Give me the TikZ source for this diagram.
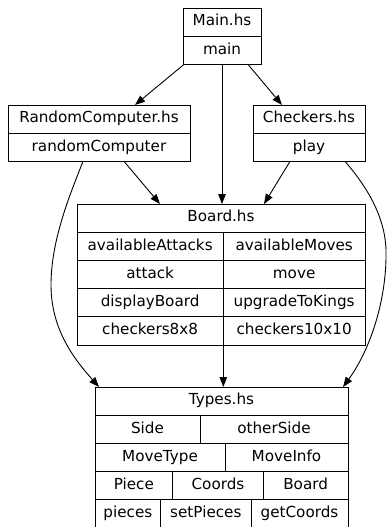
\documentclass[tikz,border=0pt]{standalone}
\usepackage{fontspec}
\setmainfont{DejaVu Sans}
\usetikzlibrary{arrows.meta}

\begin{document}
\begin{tikzpicture}[x=1pt, y=-1pt,
                    every node/.style={draw, rectangle, inner sep=0pt, outer sep=0pt, line width=0.9pt,
                                       text height=11pt, text depth=3.5pt, minimum height=28.2pt,
                                       font=\fontsize{15.2}{18}\selectfont},
                    dep/.style={-{Triangle[length=10pt, width=7.5pt]}, line width=0.9pt}]
    \useasboundingbox (0,0) rectangle (387,527);
    \clip (0,0) rectangle (387,527);
    % Main.hs
    \node[minimum width=78pt] (mainhs) at (222,22.1) {Main.hs};
    \node[minimum width=78pt] (mainfn) at (222,50.3) {main};
    % RandomComputer.hs
    \node[minimum width=182pt] (rchs) at (99,119.1) {RandomComputer.hs};
    \node[minimum width=182pt] (rcfn) at (99,147.3) {randomComputer};
    % Checkers.hs
    \node[minimum width=112pt] (chhs) at (309,119.1) {Checkers.hs};
    \node[minimum width=112pt] (chfn) at (309,147.3) {play};
    % Board.hs
    \node[minimum width=288pt] (boardhs) at (221,218.1) {Board.hs};
    \node[minimum width=146.3pt] (baa) at (150.15,246.3) {availableAttacks};
    \node[minimum width=141.7pt] (bam) at (294.15,246.3) {availableMoves};
    \node[minimum width=146.3pt] (bat) at (150.15,274.5) {attack};
    \node[minimum width=141.7pt] (bmv) at (294.15,274.5) {move};
    \node[minimum width=146.3pt] (bdb) at (150.15,302.7) {displayBoard};
    \node[minimum width=141.7pt] (bup) at (294.15,302.7) {upgradeToKings};
    \node[minimum width=146.3pt] (bc8) at (150.15,330.9) {checkers8x8};
    \node[minimum width=141.7pt] (bc10) at (294.15,330.9) {checkers10x10};
    % Types.hs
    \node[minimum width=253pt] (typeshs) at (221.5,401.1) {Types.hs};
    \node[minimum width=105pt] (tside) at (147.5,429.3) {Side};
    \node[minimum width=148pt] (tother) at (274,429.3) {otherSide};
    \node[minimum width=130pt] (tmtype) at (160,457.5) {MoveType};
    \node[minimum width=123pt] (tminfo) at (286.5,457.5) {MoveInfo};
    \node[minimum width=77.7pt] (tpiece) at (133.85,485.7) {Piece};
    \node[minimum width=90.6pt] (tcoords) at (218,485.7) {Coords};
    \node[minimum width=84.7pt] (tboard) at (305.65,485.7) {Board};
    \node[minimum width=65.7pt] (tpieces) at (127.85,513.9) {pieces};
    \node[minimum width=90.3pt] (tsetp) at (205.85,513.9) {setPieces};
    \node[minimum width=97pt] (tgetc) at (299.5,513.9) {getCoords};
    % imports
    \coordinate (lbend) at (51,285);
    \coordinate (rbend) at (386,250);
    \draw[dep] ([xshift=1pt]mainfn.south west) -- ([xshift=36pt]rchs.north);
    \draw[dep] (mainfn.south) -- (mainfn.south |- boardhs.north);
    \draw[dep] ([xshift=26pt]mainfn.south) -- ([xshift=-27pt]chhs.north);
    \draw[dep] ([xshift=25pt]rcfn.south) -- ([xshift=-61pt]boardhs.north);
    \draw[dep] ([xshift=-19pt]chfn.south) -- ([xshift=43pt]boardhs.north);
    \draw[dep] (bc8.south east) -- (bc8.south east |- typeshs.north);
    \draw[dep] ([xshift=-16pt]rcfn.south) .. controls +(-13,33) and +(0,-45) .. (lbend)
        .. controls +(0,45) and +(-24,-27) .. ([xshift=4pt]typeshs.north west);
    \draw[dep] ([xshift=36pt]chfn.south) .. controls +(20,23) and +(-1,-35) .. (rbend)
        .. controls +(1,50) and +(27,-37) .. ([xshift=-5pt]typeshs.north east);
\end{tikzpicture}
\end{document}
